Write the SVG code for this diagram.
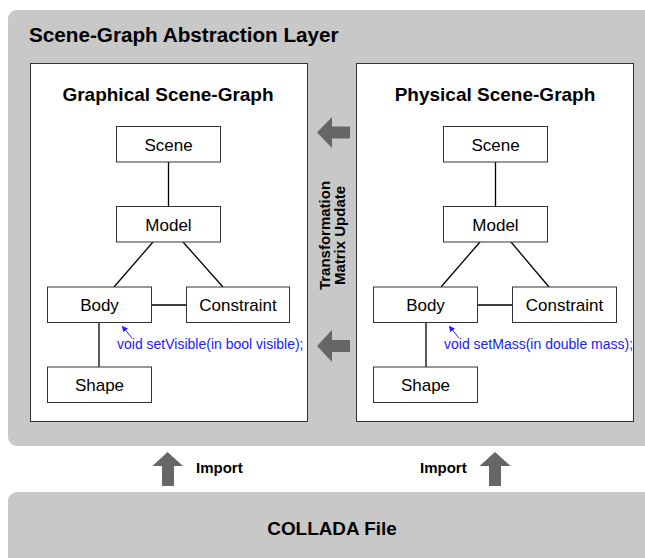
<svg xmlns="http://www.w3.org/2000/svg" width="645" height="558" viewBox="0 0 645 558">
<defs>
<style>
.panel{fill:#c8c8c8;}
.frame{fill:#ffffff;stroke:#333333;stroke-width:1;}
.node{fill:#ffffff;stroke:#333333;stroke-width:1;}
.edge{stroke:#000000;stroke-width:1.3;fill:none;}
.fat{fill:#666666;}
.ntext{font-family:"Liberation Sans",Arial,sans-serif;font-size:17px;fill:#000;text-anchor:middle;}
.btext{font-family:"Liberation Sans",Arial,sans-serif;font-weight:bold;fill:#000;}
.note{font-family:"Liberation Sans",Arial,sans-serif;font-size:14px;fill:#2020ff;}
.noteline{stroke:#2020ff;stroke-width:1;fill:none;}
</style>
<marker id="ah" markerWidth="6" markerHeight="6" refX="5" refY="3" orient="auto" markerUnits="userSpaceOnUse">
<path d="M0,0 L6,3 L0,6 Z" fill="#2020ff"/>
</marker>
</defs>

<g id="abstraction-layer">
<rect class="panel" x="8" y="10" width="660" height="436" rx="9" ry="9"/>
<text class="btext" x="29" y="41.5" font-size="20.7">Scene-Graph Abstraction Layer</text>
</g>

<g id="collada-file">
<rect class="panel" x="8" y="492" width="660" height="80" rx="9" ry="9"/>
<text class="btext" x="332" y="535" font-size="18.9" text-anchor="middle">COLLADA File</text>
</g>

<g id="graphical-frame">
<rect class="frame" x="30.5" y="63.5" width="277" height="358"/>
<text class="btext" x="168" y="101" font-size="19" text-anchor="middle">Graphical Scene-Graph</text>
</g>

<g id="physical-frame">
<rect class="frame" x="356.5" y="63.5" width="277" height="358"/>
<text class="btext" x="495" y="101" font-size="19" text-anchor="middle">Physical Scene-Graph</text>
</g>

<g id="connectors">
<line class="edge" x1="168.5" y1="162" x2="168.5" y2="206"/>
<line class="edge" x1="153" y1="242" x2="114" y2="287"/>
<line class="edge" x1="183" y1="242" x2="223" y2="287"/>
<line class="edge" x1="151.5" y1="305" x2="186.5" y2="305"/>
<line class="edge" x1="99" y1="322.5" x2="99" y2="367"/>
<line class="noteline" x1="132" y1="338" x2="122.5" y2="326.5" marker-end="url(#ah)"/>

<line class="edge" x1="495.5" y1="162" x2="495.5" y2="206"/>
<line class="edge" x1="480" y1="242" x2="441" y2="287"/>
<line class="edge" x1="511" y1="242" x2="549" y2="287"/>
<line class="edge" x1="477.5" y1="305" x2="512.5" y2="305"/>
<line class="edge" x1="426" y1="322.5" x2="426" y2="367"/>
<line class="noteline" x1="459" y1="338" x2="449.5" y2="326.5" marker-end="url(#ah)"/>

<path class="fat" d="M317,132.5 L332,117 L332,126.5 L350,126.5 L350,138.5 L332,138.5 L332,148 Z"/>
<path class="fat" d="M317,346 L332,330 L332,340 L350,340 L350,352 L332,352 L332,362 Z"/>
<path class="fat" d="M167.5,452 L183,466 L174,466 L174,486 L162,486 L162,466 L152.5,466 Z"/>
<path class="fat" d="M495,452 L510.5,466 L501,466 L501,486 L489,486 L489,466 L479.5,466 Z"/>
</g>

<g id="labels">
<text class="btext" font-size="15" text-anchor="middle" transform="translate(330,235.5) rotate(-90)">Transformation</text>
<text class="btext" font-size="15" text-anchor="middle" transform="translate(345,235.5) rotate(-90)">Matrix Update</text>
<text class="btext" x="196" y="473" font-size="15">Import</text>
<text class="btext" x="420" y="473" font-size="15">Import</text>
<text class="note" x="117" y="349">void setVisible(in bool visible);</text>
<text class="note" x="444" y="349">void setMass(in double mass);</text>
</g>

<g id="g-scene">
<rect class="node" x="116.5" y="126.5" width="104" height="35.5"/>
<text class="ntext" x="168.5" y="150.5">Scene</text>
</g>
<g id="g-model">
<rect class="node" x="116.5" y="206.5" width="104" height="35.5"/>
<text class="ntext" x="168.5" y="230.5">Model</text>
</g>
<g id="g-body">
<rect class="node" x="47.5" y="287" width="104" height="35.5"/>
<text class="ntext" x="99.5" y="311">Body</text>
</g>
<g id="g-constraint">
<rect class="node" x="186.5" y="287" width="103" height="35.5"/>
<text class="ntext" x="238" y="311">Constraint</text>
</g>
<g id="g-shape">
<rect class="node" x="47.5" y="367" width="104" height="35.5"/>
<text class="ntext" x="99.5" y="391">Shape</text>
</g>

<g id="p-scene">
<rect class="node" x="443.5" y="126.5" width="104" height="35.5"/>
<text class="ntext" x="495.5" y="150.5">Scene</text>
</g>
<g id="p-model">
<rect class="node" x="443.5" y="206.5" width="104" height="35.5"/>
<text class="ntext" x="495.5" y="230.5">Model</text>
</g>
<g id="p-body">
<rect class="node" x="373.5" y="287" width="104" height="35.5"/>
<text class="ntext" x="425.5" y="311">Body</text>
</g>
<g id="p-constraint">
<rect class="node" x="512.5" y="287" width="104" height="35.5"/>
<text class="ntext" x="564.5" y="311">Constraint</text>
</g>
<g id="p-shape">
<rect class="node" x="373.5" y="367" width="104" height="35.5"/>
<text class="ntext" x="425.5" y="391">Shape</text>
</g>
</svg>
